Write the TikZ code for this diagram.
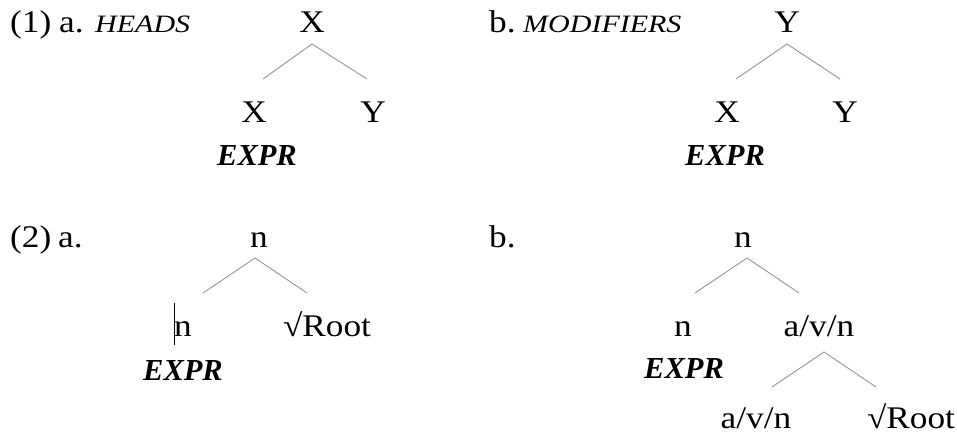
\documentclass[tikz,border=0pt]{standalone}
\usepackage{fontspec}
\setmainfont{Liberation Serif}
\newfontfamily\widefont[FakeStretch=1.12]{Liberation Serif}
\newfontfamily\scwidefont[FakeStretch=1.2]{Liberation Serif}
\begin{document}
\begin{tikzpicture}[x=1pt,y=-1pt,
  lab/.style={inner sep=0pt,anchor=base,font=\widefont\fontsize{31.5}{36}\selectfont},
  labw/.style={lab,anchor=base west},
  tag/.style={inner sep=0pt,anchor=base west,font=\scwidefont\itshape\fontsize{25}{28}\selectfont},
  expr/.style={inner sep=0pt,anchor=base,font=\bfseries\itshape\fontsize{30.5}{36}\selectfont},
  edge/.style={draw=black!42,line width=0.9pt}]
\useasboundingbox (0,0) rectangle (957,435);
% (1) a.
\node[labw] (n1) at (10,33) {(1)};
\node[labw] (a1) at (59,33) {a.};
\node[tag] (heads) at (95,33) {HEADS};
\node[lab] (ra) at (312,33) {X};
\node[lab] (ca1) at (254,123) {X};
\node[lab] (ca2) at (373,123) {Y};
\node[expr] (ea) at (257,166) {EXPR};
\coordinate (pa) at (312,44);
\coordinate (la1) at (263,79);
\coordinate (la2) at (367,79);
\draw[edge] (la1) -- (pa) -- (la2);
% (1) b.
\node[labw] (b1) at (489,33) {b.};
\node[tag] (mods) at (523,33) {MODIFIERS};
\node[lab] (rb) at (787,33) {Y};
\node[lab] (cb1) at (727,123) {X};
\node[lab] (cb2) at (845,123) {Y};
\node[expr] (eb) at (725,166) {EXPR};
\coordinate (pb) at (787,44);
\coordinate (lb1) at (736,79);
\coordinate (lb2) at (840,79);
\draw[edge] (lb1) -- (pb) -- (lb2);
% (2) a.
\node[labw] (n2) at (10,248) {(2)};
\node[labw] (a2) at (58,248) {a.};
\node[lab] (rc) at (259,248) {n};
\node[lab] (cc1) at (183,336) {n};
\node[lab] (cc2) at (327,336) {√Root};
\node[expr] (ec) at (183,380) {EXPR};
\coordinate (pc) at (255,258);
\coordinate (lc1) at (203,293);
\coordinate (lc2) at (307,293);
\draw[edge] (lc1) -- (pc) -- (lc2);
\coordinate (cur1) at (174,303);
\coordinate (cur2) at (174,345);
\draw[line width=1pt] (cur1) -- (cur2);
% (2) b.
\node[labw] (b2) at (489,248) {b.};
\node[lab] (rd) at (743,248) {n};
\node[lab] (cd1) at (683,336) {n};
\node[lab] (cd2) at (819,336) {a/v/n};
\node[expr] (ed) at (684,378) {EXPR};
\node[lab] (gd1) at (756,428) {a/v/n};
\node[lab] (gd2) at (911,428) {√Root};
\coordinate (pd) at (747,258);
\coordinate (ld1) at (695,293);
\coordinate (ld2) at (799,293);
\draw[edge] (ld1) -- (pd) -- (ld2);
\coordinate (pe) at (824,352);
\coordinate (le1) at (772,387);
\coordinate (le2) at (876,387);
\draw[edge] (le1) -- (pe) -- (le2);
\end{tikzpicture}
\end{document}
